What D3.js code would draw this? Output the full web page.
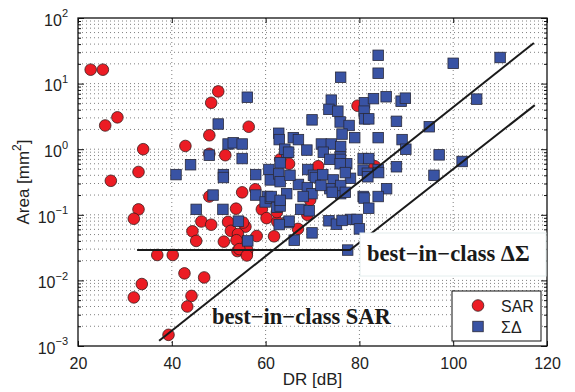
<!DOCTYPE html>
<html>
<head>
<meta charset="utf-8">
<script src="https://cdn.jsdelivr.net/npm/d3@7"></script>
<style>
  body { margin: 0; background: #fff; }
  svg text { font-family: Arial, "Liberation Sans", sans-serif; }
  svg text.serif { font-family: "Liberation Serif", "Times New Roman", serif; font-weight: bold; }
</style>
</head>
<body>
<div id="chart"></div>
<script>
// SAR converters: [DR dB, area mm^2]
const sarPoints = [
  [22.7, 16.3], [25.3, 16.3], [25.8, 2.3], [28.4, 3.06], [33.9, 1.0], [32.9, 0.45], [27.0, 0.33],
  [42.9, 1.12], [48.0, 1.63], [48.4, 5.1], [49.9, 7.6], [56.4, 2.2], [48.0, 0.85], [51.4, 0.81],
  [55.0, 0.22], [57.8, 0.245], [48.0, 0.19], [32.9, 0.121], [31.9, 0.087], [36.9, 0.0244],
  [40.2, 0.0244], [42.7, 0.0128], [46.9, 0.0111], [33.6, 0.0088], [31.9, 0.0055], [44.2, 0.0058],
  [43.3, 0.004], [39.3, 0.00148], [44.4, 0.056], [45.2, 0.040], [46.3, 0.079], [48.4, 0.0706],
  [51.1, 0.039], [52.0, 0.078], [52.6, 0.057], [53.7, 0.124], [54.3, 0.040], [54.0, 0.028],
  [56.0, 0.026], [56.1, 0.029], [55.7, 0.066], [55.2, 0.076], [58.1, 0.0475], [59.2, 0.121],
  [60.2, 0.089], [61.8, 0.047], [62.5, 0.078], [54.1, 0.051], [53.8, 0.041], [54.4, 0.030],
  [56.0, 0.024], [62.4, 0.11], [71.2, 0.55], [65.0, 0.6], [83.3, 0.55], [66.9, 0.061],
  [69.5, 0.168], [68.9, 0.10], [79.6, 4.6], [63.1, 0.70]
];

// Sigma-delta converters
const sdPoints = [
  [56.1, 6.2], [49.9, 2.42], [52.0, 1.2], [53.1, 1.25], [55.0, 1.2], [48.0, 0.81], [55.0, 0.72],
  [44.0, 0.58], [40.9, 0.41], [51.0, 0.41], [51.0, 0.37], [57.9, 0.41], [48.8, 0.2], [57.9, 0.2],
  [60.7, 0.49], [61.0, 0.34], [62.8, 1.75], [62.9, 1.4], [64.5, 0.9], [63.1, 0.62], [62.8, 0.42],
  [63.1, 0.32], [64.5, 0.21], [60.4, 0.19], [59.9, 0.157], [61.0, 0.18], [45.2, 0.121],
  [50.9, 0.121], [54.2, 0.08], [56.2, 0.040], [62.4, 0.13], [63.1, 0.136], [61.2, 0.19],
  [64.8, 0.076], [84.0, 27], [84.0, 14.4], [76.0, 12.5], [74.0, 5.6], [73.5, 4.05], [75.4, 3.8],
  [81.1, 5.1], [81.0, 3.8], [81.1, 2.9], [82.0, 2.9], [83.0, 5.9], [85.7, 6.3], [88.9, 5.4],
  [89.8, 6.0], [87.9, 2.66], [69.9, 2.8], [75.9, 2.6], [77.8, 2.3], [76.3, 1.7], [79.0, 1.5],
  [84.0, 1.5], [89.1, 1.4], [65.9, 1.5], [67.0, 1.4], [68.8, 0.97], [71.9, 1.2], [74.0, 1.2],
  [76.0, 1.1], [72.3, 0.9], [75.9, 0.76], [64.1, 1.0], [64.9, 0.9], [100, 20.4], [110, 25],
  [105, 5.8], [94.9, 2.2], [89.9, 1.0], [97, 0.82], [101.9, 0.65], [95.9, 0.40], [87.9, 0.54],
  [85.8, 0.25], [76.0, 0.7], [73.7, 0.7], [77.3, 0.6], [80.8, 0.72], [82.0, 0.72], [80.8, 0.48],
  [81.7, 0.43], [84.0, 0.49], [69.0, 0.49], [70.2, 0.40], [70.6, 0.37], [72.2, 0.41], [74.4, 0.34],
  [78.1, 0.36], [75.9, 0.6], [77.0, 0.44], [81.8, 0.38], [84.1, 0.44], [80.8, 0.19], [84.0, 0.19],
  [67.0, 0.29], [68.9, 0.26], [73.7, 0.25], [76.0, 0.21], [65.2, 0.40], [69.9, 0.21], [68.0, 0.19],
  [71.8, 0.28], [76.0, 0.28], [77.0, 0.22], [74.2, 0.22], [81.0, 0.18], [82.0, 0.126],
  [63.1, 0.166], [67.5, 0.121], [69.3, 0.115], [65.0, 0.08], [62.9, 0.071], [66.1, 0.041],
  [69.9, 0.053], [73.5, 0.081], [75.1, 0.072], [78.1, 0.085], [79.5, 0.085], [76.3, 0.082],
  [80.0, 0.061], [77.5, 0.029]
];

// best-in-class boundaries
const sarLine = [[37.3, 0.0012], [117.2, 41.6]];
const sdLine = [[32.6, 0.029], [78.0, 0.029], [117.4, 4.7]];

const xTicks = [20, 40, 60, 80, 100, 120];
const yExponents = [-3, -2, -1, 0, 1, 2];
const xLabel = "DR [dB]";

const width = 575, height = 392;
const mLeft = 78, mRight = 547, mTop = 18, mBottom = 346;

const svg = d3.select("#chart").append("svg")
    .attr("width", width)
    .attr("height", height);

const x = d3.scaleLinear().domain([20, 120]).range([mLeft, mRight]);
const y = d3.scaleLog().domain([1e-3, 1e2]).range([mBottom, mTop]);

const majorY = yExponents.map(e => Math.pow(10, e));
const minorY = [];
yExponents.slice(0, -1).forEach(e => {
    for (let k = 2; k <= 9; k++) minorY.push(k * Math.pow(10, e));
});

// --- grid ---
const grid = svg.append("g").attr("stroke", "#808080").attr("stroke-width", 1)
    .attr("stroke-dasharray", "1,3");
grid.selectAll("line.gy")
    .data(majorY.concat(minorY).filter(v => v > 1e-3 && v < 1e2))
    .join("line")
    .attr("class", "gy")
    .attr("x1", mLeft).attr("x2", mRight)
    .attr("y1", d => y(d)).attr("y2", d => y(d));
grid.selectAll("line.gx")
    .data(xTicks.slice(1, -1))
    .join("line")
    .attr("class", "gx")
    .attr("y1", mTop).attr("y2", mBottom)
    .attr("x1", d => x(d)).attr("x2", d => x(d));

// --- axes ---
const axisBottom = svg.append("g")
    .attr("transform", `translate(0,${mBottom})`)
    .call(d3.axisBottom(x).tickValues(xTicks).tickSizeInner(-5).tickSizeOuter(0).tickPadding(12));
axisBottom.selectAll("text").attr("font-size", "16px").attr("fill", "#222");

svg.append("g")
    .attr("transform", `translate(0,${mTop})`)
    .call(d3.axisTop(x).tickValues(xTicks).tickSizeInner(-5).tickSizeOuter(0).tickFormat(""));

const axisLeft = svg.append("g")
    .attr("transform", `translate(${mLeft},0)`)
    .call(d3.axisLeft(y).tickValues(majorY).tickSizeInner(-6).tickSizeOuter(0).tickPadding(10)
        .tickFormat(d => ""));
axisLeft.selectAll(".tick text").each(function(d) {
    const t = d3.select(this)
        .attr("font-size", "16px").attr("fill", "#222")
        .attr("dy", "0.45em");
    t.append("tspan").text("10");
    t.append("tspan").attr("font-size", "11px").attr("dy", "-0.75em")
        .text(String(Math.round(Math.log10(d))).replace("-", "\u2212"));
});

svg.append("g")
    .attr("transform", `translate(${mLeft},0)`)
    .call(d3.axisLeft(y).tickValues(minorY).tickSizeInner(-3).tickSizeOuter(0).tickFormat(""));
svg.append("g")
    .attr("transform", `translate(${mRight},0)`)
    .call(d3.axisRight(y).tickValues(majorY).tickSizeInner(-6).tickSizeOuter(0).tickFormat(""));
svg.append("g")
    .attr("transform", `translate(${mRight},0)`)
    .call(d3.axisRight(y).tickValues(minorY).tickSizeInner(-3).tickSizeOuter(0).tickFormat(""));

svg.selectAll(".domain").remove();
svg.selectAll(".tick line").attr("stroke", "#111");

// plot frame
svg.append("rect")
    .attr("x", mLeft).attr("y", mTop)
    .attr("width", mRight - mLeft).attr("height", mBottom - mTop)
    .attr("fill", "none").attr("stroke", "#111").attr("stroke-width", 1.3);

// axis titles
svg.append("text")
    .attr("x", (mLeft + mRight) / 2).attr("y", 385)
    .attr("text-anchor", "middle").attr("font-size", "17px").attr("fill", "#222")
    .text(xLabel);

const yTitle = svg.append("text")
    .attr("transform", `translate(29,${(mTop + mBottom) / 2}) rotate(-90)`)
    .attr("text-anchor", "middle").attr("font-size", "17px").attr("fill", "#222");
yTitle.append("tspan").text("Area [mm");
yTitle.append("tspan").attr("font-size", "12px").attr("dy", "-0.7em").text("2");
yTitle.append("tspan").attr("dy", "0.5em").text("]");

// --- markers ---
const rad = 5.8, sq = 10.5;
const plot = svg.append("g");
plot.selectAll("circle")
    .data(sarPoints)
    .join("circle")
    .attr("cx", d => x(d[0]))
    .attr("cy", d => y(d[1]))
    .attr("r", rad)
    .attr("fill", "#ec1c24")
    .attr("stroke", "#3a1a1a")
    .attr("stroke-width", 0.8);

plot.selectAll("rect")
    .data(sdPoints)
    .join("rect")
    .attr("x", d => x(d[0]) - sq / 2)
    .attr("y", d => y(d[1]) - sq / 2)
    .attr("width", sq).attr("height", sq)
    .attr("fill", "#3953a4")
    .attr("stroke", "#2a2a3a")
    .attr("stroke-width", 0.8);

// --- best-in-class lines ---
const line = d3.line().x(d => x(d[0])).y(d => y(d[1]));
svg.append("path").datum(sarLine)
    .attr("d", line).attr("fill", "none").attr("stroke", "#1a1a1a").attr("stroke-width", 2);
svg.append("path").datum(sdLine)
    .attr("d", line).attr("fill", "none").attr("stroke", "#1a1a1a").attr("stroke-width", 2);

// faint box around the sigma-delta label
svg.append("rect")
    .attr("x", 360).attr("y", 233).attr("width", 186).attr("height", 43)
    .attr("fill", "#fff").attr("stroke", "#e4eeee").attr("stroke-width", 1);

svg.append("text")
    .attr("class", "serif")
    .attr("x", 367).attr("y", 261)
    .attr("font-size", "22.5px").attr("fill", "#1a1a1a")
    .text("best\u2212in\u2212class \u0394\u03A3");

svg.append("text")
    .attr("class", "serif")
    .attr("x", 212).attr("y", 324)
    .attr("font-size", "22.5px").attr("fill", "#1a1a1a")
    .text("best\u2212in\u2212class SAR");

// --- legend ---
const legend = svg.append("g").attr("transform", "translate(452,291)");
legend.append("rect")
    .attr("width", 89).attr("height", 50)
    .attr("fill", "#fff").attr("stroke", "#111").attr("stroke-width", 1);
legend.append("circle")
    .attr("cx", 26).attr("cy", 14.5).attr("r", rad)
    .attr("fill", "#ec1c24").attr("stroke", "#3a1a1a").attr("stroke-width", 0.8);
legend.append("rect")
    .attr("x", 26 - sq / 2).attr("y", 35.5 - sq / 2).attr("width", sq).attr("height", sq)
    .attr("fill", "#3953a4").attr("stroke", "#2a2a3a").attr("stroke-width", 0.8);
legend.append("text").attr("x", 49).attr("y", 20.5)
    .attr("font-size", "16px").attr("fill", "#222").text("SAR");
legend.append("text").attr("x", 49).attr("y", 41.5)
    .attr("font-size", "16px").attr("fill", "#222").text("\u03A3\u0394");
</script>
</body>
</html>
